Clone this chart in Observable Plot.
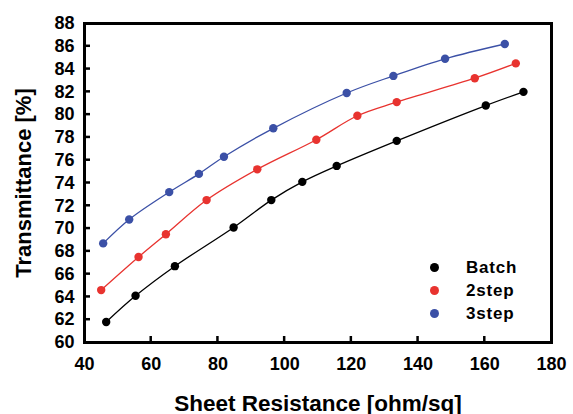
<!DOCTYPE html>
<html>
<head>
<meta charset="utf-8">
<script src="https://cdn.jsdelivr.net/npm/d3@7"></script>
<script src="https://cdn.jsdelivr.net/npm/@observablehq/plot@0.6"></script>
<style>
  body { margin: 0; background: #fff; }
  #wrap { position: relative; width: 573px; height: 414px; overflow: hidden; font-family: "Liberation Sans", Arial, sans-serif; }
  #legend { position: absolute; left: 430px; top: 256px; font-weight: bold; font-size: 17px; letter-spacing: 0.8px; }
  .row { display: flex; align-items: center; height: 23px; }
  .sym { width: 9px; height: 9px; border-radius: 50%; margin-right: 27px; }
</style>
</head>
<body>
<div id="wrap"></div>
<script>
const series = ["Batch", "2step", "3step"];
const colors = ["#000000", "#e8332f", "#3b50a6"];

const batchX = [46.5, 55.3, 67.1, 84.7, 96.0, 105.3, 115.6, 133.6, 160.3, 171.6];
const batchY = [61.8, 64.1, 66.7, 70.1, 72.5, 74.1, 75.5, 77.7, 80.8, 82.0];

const step2X = [45.0, 56.2, 64.4, 76.6, 91.8, 109.5, 121.8, 133.6, 157.0, 169.3];
const step2Y = [64.6, 67.5, 69.5, 72.5, 75.2, 77.8, 79.9, 81.1, 83.2, 84.5];

const step3X = [45.6, 53.4, 65.4, 74.3, 81.8, 96.6, 118.6, 132.6, 148.1, 166.0];
const step3Y = [68.7, 70.8, 73.2, 74.8, 76.3, 78.8, 81.9, 83.4, 84.9, 86.2];

const xTicks = [40, 60, 80, 100, 120, 140, 160, 180];
const yTicks = [60, 62, 64, 66, 68, 70, 72, 74, 76, 78, 80, 82, 84, 86, 88];
const xLabel = "Sheet Resistance [ohm/sq]";
const yLabel = "Transmittance [%]";

const xs = [batchX, step2X, step3X];
const ys = [batchY, step2Y, step3Y];
const data = [];
series.forEach((s, i) => xs[i].forEach((x, j) => data.push({series: s, x, y: ys[i][j]})));

const TICK = 6;

// inward tick marks drawn from the plot's own scales
function inwardTicks(index, scales, values, dims) {
  const g = d3.create("svg:g").attr("stroke", "#000").attr("stroke-width", 2.5);
  const bottom = dims.height - dims.marginBottom;
  const left = dims.marginLeft;
  xTicks.slice(1, -1).forEach(t => {
    const px = scales.x(t);
    g.append("line").attr("x1", px).attr("x2", px).attr("y1", bottom).attr("y2", bottom - TICK);
  });
  yTicks.slice(1, -1).forEach(t => {
    const py = scales.y(t);
    g.append("line").attr("x1", left).attr("x2", left + TICK).attr("y1", py).attr("y2", py);
  });
  return g.node();
}

const chart = Plot.plot({
  width: 573,
  height: 414,
  marginLeft: 84,
  marginRight: 22,
  marginTop: 23,
  marginBottom: 72,
  style: {fontFamily: '"Liberation Sans", Arial, sans-serif', fontWeight: "bold", fontSize: "18px", color: "#000", background: "#fff", overflow: "visible"},
  x: {domain: [40, 180]},
  y: {domain: [60, 88]},
  color: {domain: series, range: colors},
  marks: [
    Plot.axisX({ticks: xTicks, tickSize: 0, tickPadding: 14.5, fontSize: 18, label: null}),
    Plot.axisY({ticks: yTicks, tickSize: 0, tickPadding: 10, fontSize: 18, label: null}),
    inwardTicks,
    Plot.line(data, {x: "x", y: "y", stroke: "series", z: "series", curve: "catmull-rom", strokeWidth: 1.3}),
    Plot.dot(data, {x: "x", y: "y", fill: "series", r: 4.2}),
    Plot.frame({strokeWidth: 3, stroke: "#000"}),
    Plot.text([yLabel], {text: d => d, frameAnchor: "left", textAnchor: "middle", lineAnchor: "middle", dx: -61, rotate: -90, fontSize: 22, fontWeight: "bold"}),
    Plot.text([xLabel], {text: d => d, frameAnchor: "bottom", textAnchor: "middle", dy: 68, fontSize: 22.5, fontWeight: "bold"})
  ]
});

const wrap = document.getElementById("wrap");
wrap.appendChild(chart);
const legend = document.createElement("div");
legend.id = "legend";
series.forEach((s, i) => {
  const row = document.createElement("div");
  row.className = "row";
  const sym = document.createElement("div");
  sym.className = "sym";
  sym.style.background = colors[i];
  const label = document.createElement("span");
  label.textContent = s;
  row.appendChild(sym);
  row.appendChild(label);
  legend.appendChild(row);
});
wrap.appendChild(legend);
</script>
</body>
</html>
